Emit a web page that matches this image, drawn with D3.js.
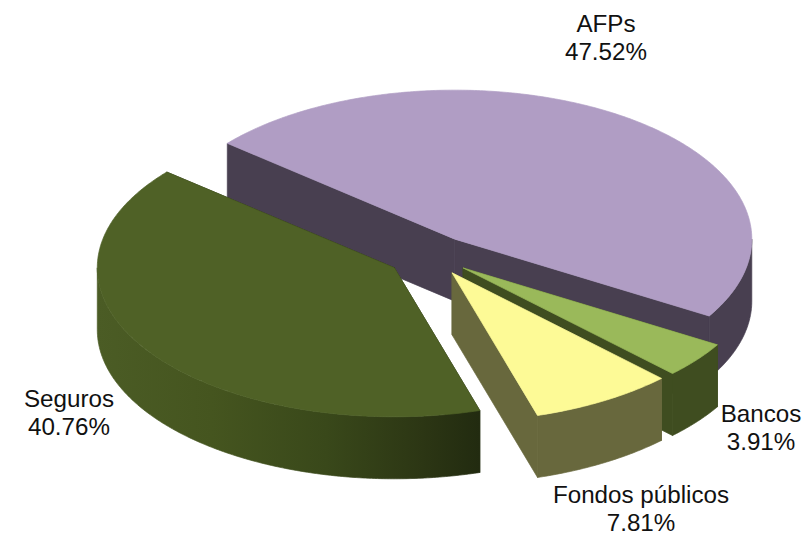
<!DOCTYPE html>
<html>
<head>
<meta charset="utf-8">
<script src="https://cdnjs.cloudflare.com/ajax/libs/d3/7.8.5/d3.min.js"></script>
<style>
html,body{margin:0;padding:0;background:#fff}
svg{display:block}
text{font-family:"Liberation Sans",Arial,sans-serif;font-size:24.2px;fill:#111;text-anchor:middle}
path{stroke-width:0.7;stroke-linejoin:round}
</style>
</head>
<body>
<script>
const categories = ["AFPs", "Bancos", "Fondos públicos", "Seguros"];
const shares = [47.52, 3.91, 7.81, 40.76];
const topColors = ["#b09dc4", "#9ab95a", "#fdfa96", "#4f6126"];
const wallColors = ["#483f50", "#3f4d20", "#68683d", "url(#segurosWall)"];
const cutColors = ["#483f50", "#3f4d20", "#68683d", "#222b10"];
const explode = [0.135, 0.135, 0.135, 0.15];
const labelCenters = [[606, 32], [761, 422], [641, 503], [69, 407]];

const W = 808, H = 537, cx = 431.5, cy = 255.5, rx = 297, ry = 149, depth = 62;
const svg = d3.select("body").append("svg").attr("width", W).attr("height", H);

const grad = svg.append("defs").append("linearGradient")
  .attr("id", "segurosWall").attr("gradientUnits", "userSpaceOnUse")
  .attr("x1", 97).attr("x2", 480).attr("y1", 0).attr("y2", 0);
[[0, "#4b5c25"], [0.3, "#45551f"], [0.6, "#39481a"], [0.85, "#2c3614"], [1, "#222b10"]]
  .forEach(([o, c]) => grad.append("stop").attr("offset", o).attr("stop-color", c));

const slices = d3.pie().value(d => d).sort(null)
  .startAngle(-50 * Math.PI / 180).endAngle(310 * Math.PI / 180)(shares);

const line = d3.line();
const proj = (c, a, dy = 0) => [c[0] + rx * Math.sin(a), c[1] - ry * Math.cos(a) + dy];
const arcPts = (c, a0, a1, dy = 0) => {
  const n = Math.max(2, Math.ceil(Math.abs(a1 - a0) / 0.01));
  return d3.range(n + 1).map(i => proj(c, a0 + (a1 - a0) * i / n, dy));
};

const g = svg.append("g");
slices.forEach((s, i) => {
  const mid = (s.startAngle + s.endAngle) / 2;
  const c = [cx + explode[i] * rx * Math.sin(mid), cy - explode[i] * ry * Math.cos(mid)];
  const slice = g.append("g");
  // cut faces
  [s.startAngle, s.endAngle].forEach(a => {
    const p = proj(c, a);
    slice.append("path").attr("fill", cutColors[i]).attr("stroke", cutColors[i]).attr("d",
      line([c, p, [p[0], p[1] + depth], [c[0], c[1] + depth]]) + "Z");
  });
  // outer wall: front half only
  const a0 = Math.max(s.startAngle, Math.PI / 2), a1 = Math.min(s.endAngle, 3 * Math.PI / 2);
  if (a1 > a0) {
    slice.append("path").attr("fill", wallColors[i]).attr("stroke", wallColors[i]).attr("d",
      line(arcPts(c, a0, a1).concat(arcPts(c, a1, a0, depth))) + "Z");
  }
  // top
  slice.append("path").attr("fill", topColors[i]).attr("stroke", topColors[i]).attr("d",
    line([c].concat(arcPts(c, s.startAngle, s.endAngle))) + "Z");
});

const labels = svg.append("g");
categories.forEach((name, i) => {
  const t = labels.append("text").attr("x", labelCenters[i][0]).attr("y", labelCenters[i][1]);
  t.append("tspan").attr("x", labelCenters[i][0]).text(name);
  t.append("tspan").attr("x", labelCenters[i][0]).attr("dy", 28).text(shares[i].toFixed(2) + "%");
});
</script>
</body>
</html>
